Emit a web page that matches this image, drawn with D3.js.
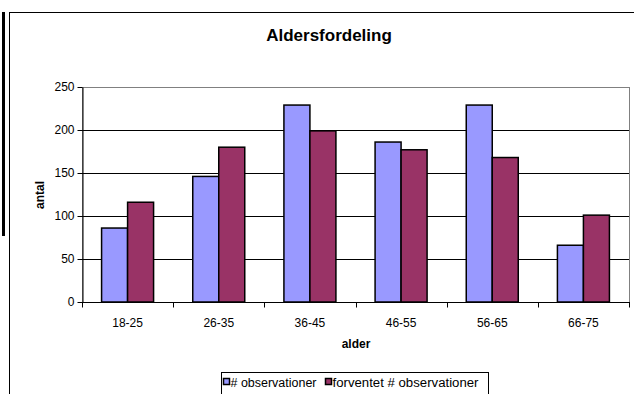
<!DOCTYPE html>
<html>
<head>
<meta charset="utf-8">
<script src="https://cdn.jsdelivr.net/npm/d3@7"></script>
<style>
  html, body { margin: 0; padding: 0; background: #fff; }
  svg { display: block; font-family: Arial, "Liberation Sans", sans-serif; }
</style>
</head>
<body>
<svg id="chart" width="634" height="394"></svg>
<script>
// Age groups and counts
const categories = ["18-25", "26-35", "36-45", "46-55", "56-65", "66-75"];
const observed = [86, 146, 229, 186, 229, 66];
const expected = [116, 180, 199, 177, 168, 101];
const seriesNames = ["# observationer", "forventet # observationer"];
const seriesColors = ["#9999FF", "#993366"];
const yTicks = [0, 50, 100, 150, 200, 250];

const svg = d3.select("#chart");

// Sheet frame and side bar
svg.append("rect").attr("x", 2).attr("y", 12).attr("width", 3).attr("height", 224).attr("fill", "#000");
svg.append("line").attr("x1", 9.5).attr("x2", 9.5).attr("y1", 12).attr("y2", 394).attr("stroke", "#000");
svg.append("line").attr("x1", 9).attr("x2", 634).attr("y1", 12.5).attr("y2", 12.5).attr("stroke", "#000");

const plot = { left: 82, right: 629, top: 87, bottom: 302 };

const x = d3.scaleBand().domain(categories).range([plot.left, plot.right]).paddingInner(0).paddingOuter(0);
const y = d3.scaleLinear().domain([0, 250]).range([plot.bottom, plot.top]);
const groupWidth = 52;
const xs = d3.scaleBand().domain([0, 1]).range([0, groupWidth]);

// Plot area border
svg.append("rect")
  .attr("x", plot.left + 0.5).attr("y", plot.top + 0.5)
  .attr("width", plot.right - plot.left).attr("height", plot.bottom - plot.top)
  .attr("fill", "none").attr("stroke", "#808080");

// Gridlines
svg.append("g").selectAll("line").data(yTicks.filter(t => t > 0 && t < 250)).join("line")
  .attr("x1", plot.left).attr("x2", plot.right)
  .attr("y1", d => Math.round(y(d)) + 0.5).attr("y2", d => Math.round(y(d)) + 0.5)
  .attr("stroke", "#000");

// Bars
const data = categories.map((c, i) => ({ c, vals: [observed[i], expected[i]] }));
const groups = svg.append("g").selectAll("g").data(data).join("g")
  .attr("transform", d => `translate(${x(d.c) + x.bandwidth() / 2 - groupWidth / 2},0)`);
groups.selectAll("rect").data(d => d.vals.map((v, k) => ({ v, k }))).join("rect")
  .attr("x", d => xs(d.k))
  .attr("y", d => y(d.v))
  .attr("width", xs.bandwidth())
  .attr("height", d => y(0) - y(d.v))
  .attr("fill", d => seriesColors[d.k])
  .attr("stroke", "#000").attr("stroke-width", 1.5);

// Y axis
const yAxis = d3.axisLeft(y).tickValues(yTicks).tickSize(5).tickPadding(3).tickSizeOuter(0);
const gy = svg.append("g").attr("transform", `translate(${plot.left + 0.5},0)`).call(yAxis);
gy.select(".domain").attr("stroke", "#000");
gy.selectAll("text").attr("font-size", 12).attr("fill", "#000").attr("font-family", null);

// X axis with ticks between categories
const gx = svg.append("g").attr("transform", `translate(0,${plot.bottom + 0.5})`);
gx.append("line").attr("x1", plot.left).attr("x2", plot.right + 1).attr("stroke", "#000");
const boundaries = categories.map(c => x(c)).concat([plot.right]);
gx.selectAll("line.tk").data(boundaries).join("line").attr("class", "tk")
  .attr("x1", d => Math.round(d) + 0.5).attr("x2", d => Math.round(d) + 0.5)
  .attr("y1", 0).attr("y2", 5).attr("stroke", "#000");
gx.selectAll("text").data(categories).join("text")
  .attr("x", d => x(d) + x.bandwidth() / 2).attr("y", 24)
  .attr("text-anchor", "middle").attr("font-size", 12).text(d => d);

// Titles
svg.append("text").attr("x", 329).attr("y", 41).attr("text-anchor", "middle")
  .attr("font-size", 17).attr("font-weight", "bold").text("Aldersfordeling");
svg.append("text").attr("x", 356).attr("y", 348).attr("text-anchor", "middle")
  .attr("font-size", 12).attr("font-weight", "bold").text("alder");
svg.append("text").attr("transform", "translate(44,195) rotate(-90)").attr("text-anchor", "middle")
  .attr("font-size", 12).attr("font-weight", "bold").text("antal");

// Legend
const lg = svg.append("g");
lg.append("rect").attr("x", 221.5).attr("y", 372.5).attr("width", 267).attr("height", 30)
  .attr("fill", "#fff").attr("stroke", "#000");
const legendItems = [{ x: 223, tx: 230.5, len: 86 }, { x: 325, tx: 332.5, len: 146 }];
legendItems.forEach((it, k) => {
  lg.append("rect").attr("x", it.x + 0.5).attr("y", 378.5).attr("width", 6).attr("height", 6)
    .attr("fill", seriesColors[k]).attr("stroke", "#000").attr("stroke-width", 1.5);
  lg.append("text").attr("x", it.tx).attr("y", 386.5).attr("font-size", 12)
    .attr("textLength", it.len).attr("lengthAdjust", "spacingAndGlyphs").text(seriesNames[k]);
});
</script>
</body>
</html>
